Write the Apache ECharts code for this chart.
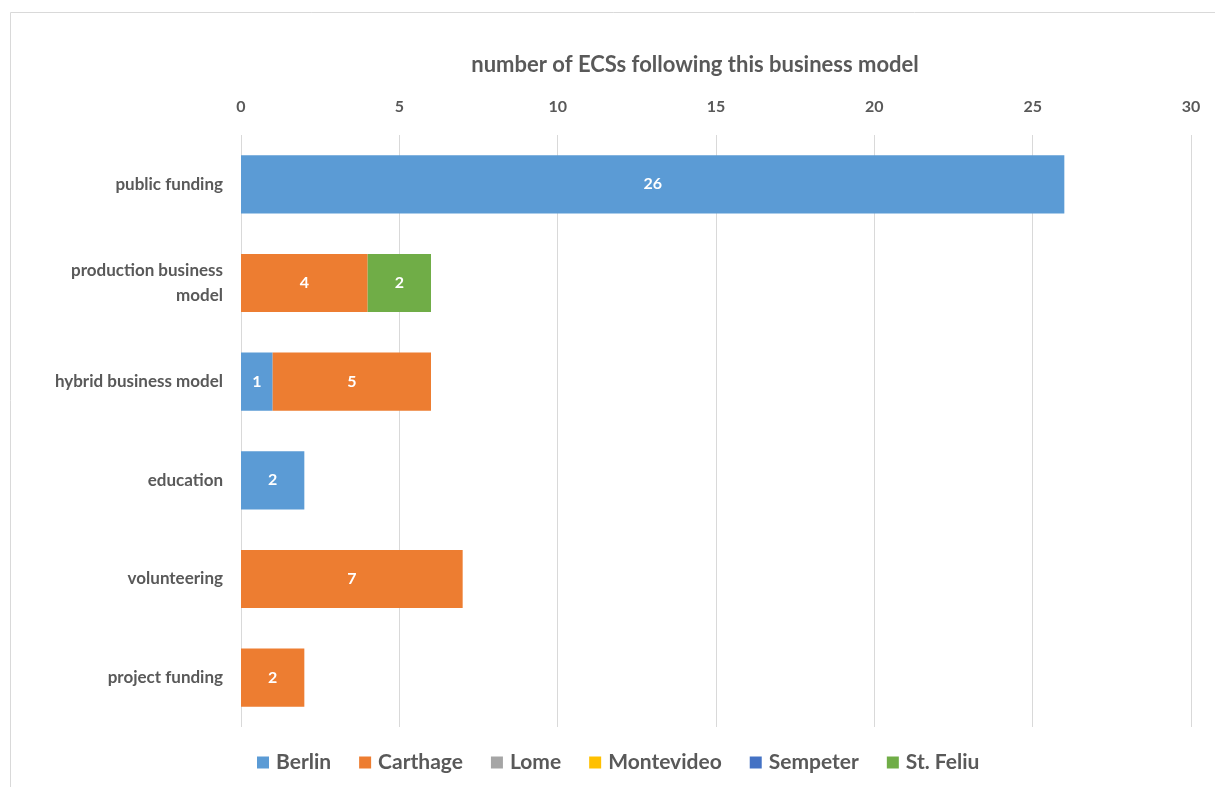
<!DOCTYPE html>
<html>
<head>
<meta charset="utf-8">
<script src="https://cdn.jsdelivr.net/npm/echarts@6/dist/echarts.min.js"></script>
<style>
  html, body { margin: 0; padding: 0; background: #fff; }
  #chart { width: 1215px; height: 787px; }
</style>
</head>
<body>
<div id="chart"></div>
<script>
// Business models, listed top to bottom
const categories = ['public funding', 'production business model', 'hybrid business model', 'education', 'volunteering', 'project funding'];
const xTicks = [0, 5, 10, 15, 20, 25, 30];

// Number of ECSs per city and business model (null = none)
const berlin     = [26, null, 1, 2, null, null];
const carthage   = [null, 4, 5, null, 7, 2];
const lome       = [null, null, null, null, null, null];
const montevideo = [null, null, null, null, null, null];
const sempeter   = [null, null, null, null, null, null];
const stFeliu    = [null, 2, null, null, null, null];

const cities = [
  { name: 'Berlin', data: berlin, color: '#5B9BD5' },
  { name: 'Carthage', data: carthage, color: '#ED7D31' },
  { name: 'Lome', data: lome, color: '#A5A5A5' },
  { name: 'Montevideo', data: montevideo, color: '#FFC000' },
  { name: 'Sempeter', data: sempeter, color: '#4472C4' },
  { name: 'St. Feliu', data: stFeliu, color: '#70AD47' }
];

const textColor = '#595959';
const fontFamily = 'Lato, "Open Sans", sans-serif';

const chart = echarts.init(document.getElementById('chart'));
chart.setOption({
  animation: false,
  textStyle: { fontFamily: fontFamily },
  graphic: [
    {
      type: 'rect',
      shape: { x: 10.5, y: 12.5, width: 1220, height: 800 },
      style: { fill: 'none', stroke: '#d9d9d9', lineWidth: 1 },
      silent: true
    },
    {
      // axis title above the value labels
      type: 'text',
      x: 695,
      y: 65,
      style: {
        text: 'number of ECSs following this business model',
        fill: textColor,
        font: 'bold 22px ' + fontFamily,
        textAlign: 'center',
        textVerticalAlign: 'middle'
      },
      silent: true
    }
  ],
  grid: { left: 241, right: 24, top: 135, bottom: 60 },
  legend: {
    bottom: 9,
    left: 252,
    itemWidth: 12,
    itemHeight: 12,
    itemGap: 28,
    icon: 'rect',
    textStyle: { color: textColor, fontSize: 21, fontWeight: 'bold', fontFamily: fontFamily, padding: [0, 0, 0, 2] },
    data: cities.map(c => c.name)
  },
  xAxis: {
    type: 'value',
    position: 'top',
    min: xTicks[0],
    max: xTicks[xTicks.length - 1],
    interval: 5,
    axisLine: { show: false },
    axisTick: { show: false },
    axisLabel: { color: textColor, fontSize: 16, fontWeight: 'bold', margin: 20 },
    splitLine: { show: true, lineStyle: { color: '#d9d9d9', width: 1 } }
  },
  yAxis: {
    type: 'category',
    inverse: true,
    data: categories,
    axisLine: { show: false },
    axisTick: { show: false },
    axisLabel: {
      color: textColor,
      fontSize: 17,
      fontWeight: 'bold',
      margin: 18,
      lineHeight: 25,
      align: 'right',
      formatter: v => v === 'production business model' ? 'production business\nmodel' : v
    }
  },
  series: cities.map(c => ({
    name: c.name,
    type: 'bar',
    stack: 'total',
    data: c.data,
    barCategoryGap: '41%',
    itemStyle: { color: c.color },
    label: {
      show: true,
      position: 'inside',
      color: '#ffffff',
      fontSize: 16,
      fontWeight: 'bold',
      formatter: p => (p.value == null ? '' : p.value)
    }
  }))
});
</script>
</body>
</html>
